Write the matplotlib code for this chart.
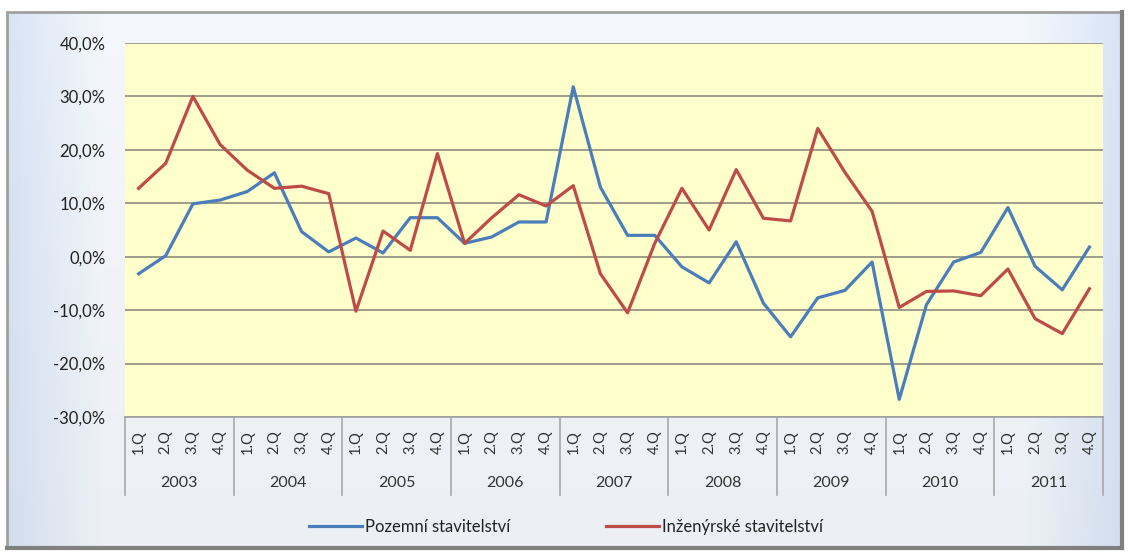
import numpy as np
import matplotlib
matplotlib.use("Agg")
import matplotlib.pyplot as plt
from matplotlib.patches import Rectangle
from matplotlib.transforms import blended_transform_factory

years = ["2003", "2004", "2005", "2006", "2007", "2008", "2009", "2010", "2011"]
quarters = ["1.Q", "2.Q", "3.Q", "4.Q"]

# y/y change, %
pozemni = [-3.2, 0.2, 9.9, 10.6, 12.2, 15.7, 4.7, 0.9, 3.5, 0.7, 7.3, 7.3,
           2.5, 3.7, 6.5, 6.5, 31.8, 13.0, 4.0, 4.0, -1.9, -4.9, 2.8, -8.7,
           -15.0, -7.7, -6.3, -1.0, -26.7, -9.0, -1.0, 0.8, 9.2, -1.8, -6.2, 1.8]
inzenyrske = [12.8, 17.5, 30.0, 21.0, 16.2, 12.8, 13.2, 11.8, -10.2, 4.8, 1.2, 19.3,
              2.5, 7.3, 11.6, 9.5, 13.3, -3.2, -10.5, 2.5, 12.8, 5.0, 16.3, 7.2,
              6.7, 24.0, 15.8, 8.5, -9.5, -6.5, -6.4, -7.3, -2.3, -11.6, -14.4, -6.0]

BLUE = "#4A7EBB"
RED = "#BE4B48"

plt.rcParams["font.family"] = ["Lato", "DejaVu Sans"]

W, H = 1129, 554
fig = plt.figure(figsize=(W / 100, H / 100), dpi=100)
fig.patch.set_facecolor("white")

# chart area background with soft gradient
bx0, by0, bx1, by1 = 7, 12, 1122, 548
bg = fig.add_axes([bx0 / W, 1 - by1 / H, (bx1 - bx0) / W, (by1 - by0) / H], zorder=-2)
gx = np.linspace(0, 1, 300)
gy = np.linspace(0, 1, 100)
GX, GY = np.meshgrid(gx, gy)
edge = np.clip(1 - np.minimum(GX, 1 - GX) * 12, 0, 1)
c_mid = np.array([0.955, 0.970, 0.990])
c_edge = np.array([0.850, 0.895, 0.960])
img = c_mid[None, None, :] * (1 - edge[..., None]) + c_edge[None, None, :] * edge[..., None]
img = img * (1 - 0.03 * GY[..., None])
bg.imshow(img, aspect="auto", extent=[0, 1, 0, 1], origin="upper")
bg.set_xlim(0, 1); bg.set_ylim(0, 1)
bg.axis("off")
bg.add_patch(Rectangle((0, 0), 1, 1, transform=bg.transAxes, fill=False,
                       edgecolor="#A0A0A0", lw=2.0, clip_on=False))
bg.plot([1, 1], [0, 1], transform=bg.transAxes, color="#808080", lw=3, clip_on=False)
bg.plot([0, 1], [0, 0], transform=bg.transAxes, color="#808080", lw=3, clip_on=False)

# plot area
px0, px1, py0, py1 = 125, 1103, 43, 417
ax = fig.add_axes([px0 / W, 1 - py1 / H, (px1 - px0) / W, (py1 - py0) / H])
ax.set_facecolor("#FFFFCC")

n = len(pozemni)
x = np.arange(n)
ax.plot(x, pozemni, color=BLUE, lw=2.3, label="Pozemní stavitelství", zorder=3)
ax.plot(x, inzenyrske, color=RED, lw=2.3, label="Inženýrské stavitelství", zorder=3)

ax.set_xlim(-0.5, n - 0.5)
ax.set_ylim(-30, 40)
yt = np.arange(-30, 41, 10)
ax.set_yticks(yt)
ax.set_yticklabels([("%.1f%%" % v).replace(".", ",") for v in yt], fontsize=12, color="#222222")
ax.tick_params(axis="y", length=0, pad=14)
ax.set_xticks([])
ax.grid(axis="y", color="#8C8C80", lw=1.2)
ax.set_axisbelow(True)
for s in ("top", "left", "right"):
    ax.spines[s].set_visible(False)
ax.spines["bottom"].set_color("#A0A0A0")
ax.spines["bottom"].set_linewidth(1.2)

# two-level category axis
tr = blended_transform_factory(ax.transData, ax.transAxes)
h = py1 - py0
for i in range(n):
    ax.text(i, -(442 - py1) / h, quarters[i % 4], transform=tr, rotation=90,
            ha="center", va="center", fontsize=10.5, color="#333333")
for k, yr in enumerate(years):
    ax.text(4 * k + 1.5, -(483 - py1) / h, yr, transform=tr, ha="center",
            va="center", fontsize=11.5, color="#333333")
for k in range(len(years) + 1):
    ax.plot([4 * k - 0.5] * 2, [0, -(495 - py1) / h], transform=tr,
            color="#A8A8A8", lw=1.2, clip_on=False)

leg = fig.legend(loc="center", bbox_to_anchor=(566 / W, 1 - 527 / H), ncol=2,
                 frameon=False, fontsize=12, handlelength=3.2, handletextpad=0.2,
                 columnspacing=5.7)
for t in leg.get_texts():
    t.set_color("#222222")

fig.savefig("out.png", dpi=100)
